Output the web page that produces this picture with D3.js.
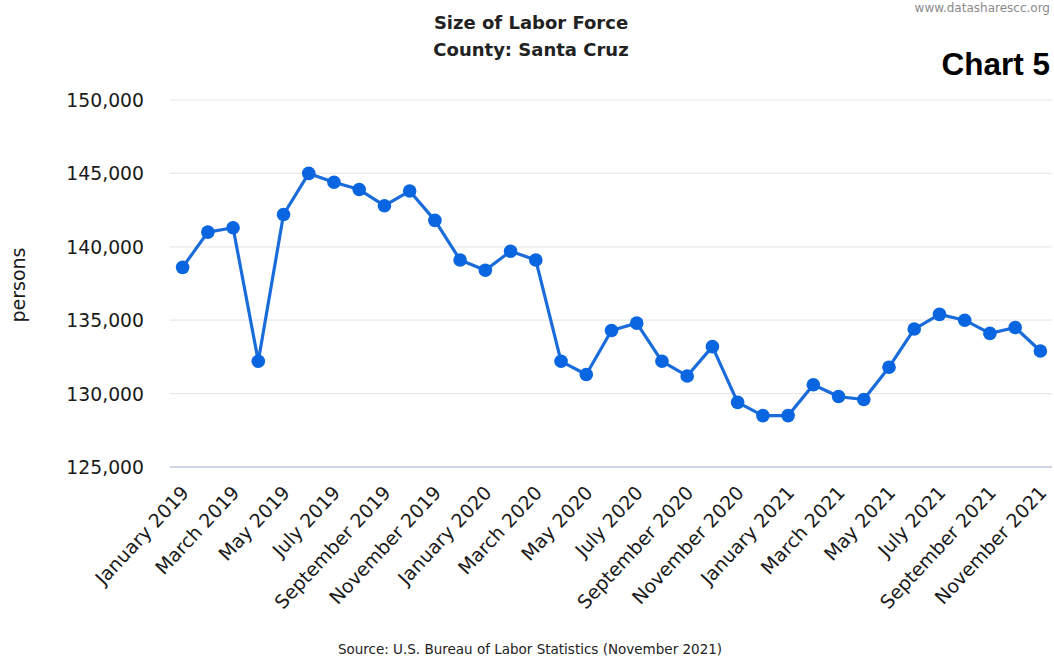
<!DOCTYPE html>
<html><head><meta charset="utf-8">
<script src="https://cdn.jsdelivr.net/npm/d3@7/dist/d3.min.js"></script>
<style>body{margin:0;background:#fff}svg{display:block}</style>
</head><body>
<svg id="c" width="1054" height="664"></svg>
<script>
const months = ["January","February","March","April","May","June","July","August","September","October","November","December"];
const categories = [];
for (let y of [2019, 2020, 2021]) for (let m of months) categories.push(m + " " + y);
categories.splice(35); // Jan 2019 - Nov 2021
const laborForce = [138600,141000,141300,132200,142200,145000,144400,143900,142800,143800,141800,139100,
  138400,139700,139100,132200,131300,134300,134800,132200,131200,133200,129400,128500,
  128500,130600,129800,129600,131800,134400,135400,135000,134100,134500,132900];
const yTicks = [125000,130000,135000,140000,145000,150000];
const tickLabels = categories.filter((d,i)=>i%2===0);

const font = "'DejaVu Sans',sans-serif";
const svg = d3.select("#c");
const x = d3.scalePoint().domain(categories).range([170,1053]).padding(0.5);
const y = d3.scaleLinear().domain([125000,150000]).range([467,100]);

svg.append("g").selectAll("line").data(yTicks).join("line")
  .attr("x1",170).attr("x2",1052).attr("y1",d=>y(d)).attr("y2",d=>y(d))
  .attr("stroke",d=>d===125000?"#cfd6e3":"#e8e8e8").attr("stroke-width",d=>d===125000?2:1.2);

const yAxis = svg.append("g").attr("transform","translate(144,0)")
  .call(d3.axisLeft(y).tickValues(yTicks).tickSize(0).tickPadding(0).tickFormat(d3.format(",")));
yAxis.select(".domain").remove();
yAxis.selectAll("text").attr("font-family",font).attr("font-size",18.8).attr("fill","#1a1a1a").attr("dy","0.35em");

const xAxis = svg.append("g").attr("transform","translate(0,467)")
  .call(d3.axisBottom(x).tickValues(tickLabels).tickSize(0).tickPadding(0));
xAxis.select(".domain").remove();
xAxis.selectAll("text").attr("font-family",font).attr("font-size",19).attr("fill","#1a1a1a")
  .attr("text-anchor","end").attr("transform","translate(2,22) rotate(-47)").attr("dy","0.35em");

const line = d3.line().x((d,i)=>x(categories[i])).y(d=>y(d));
svg.append("path").datum(laborForce).attr("d",line).attr("fill","none")
  .attr("stroke","#1a6cdb").attr("stroke-width",3.2).attr("stroke-linejoin","round");
svg.append("g").selectAll("circle").data(laborForce).join("circle")
  .attr("cx",(d,i)=>x(categories[i])).attr("cy",d=>y(d)).attr("r",6.8).attr("fill","#0a66e0");

svg.append("text").attr("x",531).attr("y",29).attr("text-anchor","middle").attr("font-family",font)
  .attr("font-size",18).attr("font-weight","bold").attr("fill","#222").text("Size of Labor Force");
svg.append("text").attr("x",531).attr("y",56).attr("text-anchor","middle").attr("font-family",font)
  .attr("font-size",18).attr("font-weight","bold").attr("fill","#222").text("County: Santa Cruz");
svg.append("text").attr("x",1050).attr("y",12).attr("text-anchor","end").attr("font-family",font)
  .attr("font-size",12).attr("fill","#8a8a8a").text("www.datasharescc.org");
svg.append("text").attr("x",1050).attr("y",75).attr("text-anchor","end").attr("font-family","'Liberation Sans',sans-serif")
  .attr("font-size",31.5).attr("font-weight","bold").attr("fill","#000").text("Chart 5");
svg.append("text").attr("transform","translate(25,285) rotate(-90)").attr("text-anchor","middle")
  .attr("font-family",font).attr("font-size",19).attr("fill","#1a1a1a").text("persons");
svg.append("text").attr("x",530).attr("y",654).attr("text-anchor","middle").attr("font-family",font)
  .attr("font-size",13.5).attr("fill","#222").text("Source: U.S. Bureau of Labor Statistics (November 2021)");
</script>
</body></html>
